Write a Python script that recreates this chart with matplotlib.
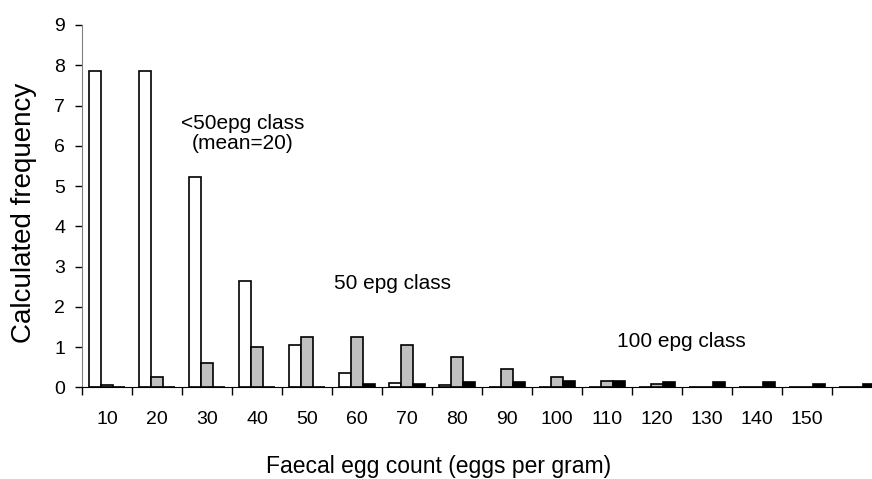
import numpy as np
import matplotlib
matplotlib.use('Agg')
import matplotlib.pyplot as plt

plt.rcParams['font.family'] = ['Liberation Sans', 'DejaVu Sans']

# faecal egg count classes (epg)
categories = ['10', '20', '30', '40', '50', '60', '70', '80', '90', '100',
              '110', '120', '130', '140', '150', '']

# calculated frequency for each class
lt50_class = [7.85, 7.85, 5.22, 2.64, 1.05, 0.36, 0.11, 0.06, 0, 0, 0, 0, 0, 0, 0, 0]
epg50_class = [0.06, 0.25, 0.61, 1.01, 1.24, 1.24, 1.05, 0.76, 0.45, 0.26, 0.16, 0.07, 0, 0, 0, 0]
epg100_class = [0, 0, 0, 0, 0, 0.07, 0.07, 0.12, 0.12, 0.16, 0.16, 0.12, 0.12, 0.12, 0.07, 0.07]

fig = plt.figure(figsize=(8.72, 4.79), dpi=100)
ax = fig.add_axes([82/872, 91.7/479, 790/872, 362.3/479])

X = np.arange(len(categories))
w = 0.234
ax.bar(X - w, lt50_class, w, color='white', edgecolor='black', linewidth=1.2)
ax.bar(X, epg50_class, w, color='#c0c0c0', edgecolor='black', linewidth=1.2)
ax.bar(X + w, epg100_class, w, color='black', edgecolor='black', linewidth=1.2)

ax.set_xlim(-0.5, 15.3)
ax.set_ylim(0, 9)
ax.set_yticks(range(0, 10))

# labels in the middle of each class, tick marks on the class borders
ax.set_xticks(X)
ax.set_xticklabels(categories)
ax.set_xticks(np.arange(len(categories)) - 0.5, minor=True)
ax.tick_params(axis='x', which='major', length=0, pad=17, labelsize=14)
ax.tick_params(axis='x', which='minor', length=6, width=1, direction='out')
ax.tick_params(axis='y', length=5, width=1, pad=7, labelsize=14)

for s in ['top', 'right']:
    ax.spines[s].set_visible(False)
ax.spines['left'].set_color('#808080')
ax.spines['bottom'].set_color('black')

ax.text(2.72, 6.3, '<50epg class\n(mean=20)', ha='center', va='center',
        fontsize=15, linespacing=1.1)
ax.text(5.7, 2.57, '50 epg class', ha='center', va='center', fontsize=15)
ax.text(11.48, 1.13, '100 epg class', ha='center', va='center', fontsize=15)

fig.text(439/872, 1 - 467/479, 'Faecal egg count (eggs per gram)',
         ha='center', va='center', fontsize=16.5)
fig.text(24/872, 1 - 213/479, 'Calculated frequency', rotation=90,
         ha='center', va='center', fontsize=20)

fig.savefig('out.png', dpi=100)
